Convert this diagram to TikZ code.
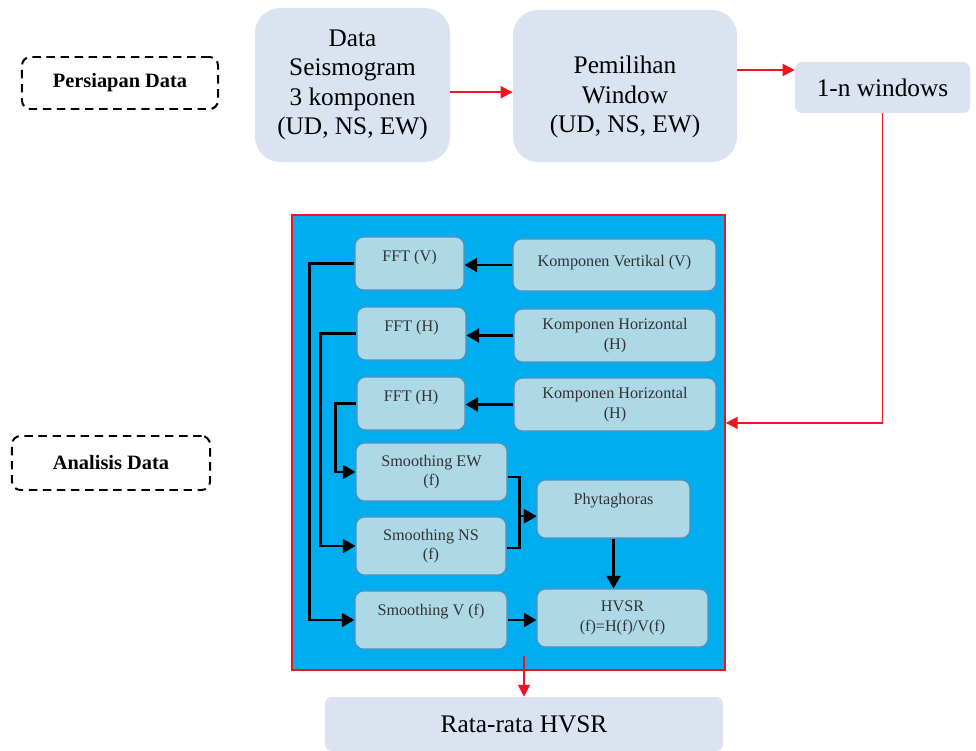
\documentclass[tikz,border=0pt]{standalone}
\usepackage{fontspec}
\setmainfont{Liberation Serif}
\usetikzlibrary{arrows.meta}
\definecolor{boxgray}{HTML}{DAE3EF}
\definecolor{panelblue}{HTML}{00AEEF}
\definecolor{innerblue}{HTML}{ADD8E6}
\definecolor{edgeblue}{HTML}{4F8FC0}
\definecolor{arrred}{HTML}{F0141E}
\newcommand{\lift}[2]{\raisebox{#1}[\height][\depth]{#2}}
\tikzset{
  stagebox/.style={fill=boxgray, rounded corners=5pt, align=center, font=\fontsize{18}{21}\selectfont},
  phasebox/.style={draw, dash pattern=on 6pt off 4pt, line width=1.4pt, rounded corners=6pt, font=\fontsize{14.5}{17}\selectfont\bfseries},
  panel/.style={fill=panelblue, draw=arrred, line width=1pt},
  stepbox/.style={fill=innerblue, draw=edgeblue, line width=0.8pt, rounded corners=6pt, align=center, text=black!80, font=\fontsize{11.5}{14}\selectfont, minimum height=1.45cm},
  redarrow/.style={draw=arrred, line width=1.4pt, -{Triangle[length=8.5pt,width=8.5pt]}},
  blkarrow/.style={line width=1.6pt, -{Triangle[length=9pt,width=10pt]}},
}
\begin{document}
\begin{tikzpicture}[x=0.025cm,y=-0.025cm]
  \useasboundingbox (0,0) rectangle (976,751);
  % phase labels
  \node[phasebox, minimum width=4.9cm, minimum height=1.3cm] (prep) at (120,83) {Persiapan Data};
  \node[phasebox, minimum width=4.95cm, minimum height=1.35cm] (anal) at (111,463) {Analisis Data};
  % data preparation
  \node[stagebox, minimum width=4.875cm, minimum height=3.85cm, rounded corners=18pt] (seis) at (352.5,85) {Data\\Seismogram\\3 komponen\\(UD, NS, EW)};
  \node[stagebox, minimum width=5.6cm, minimum height=3.8cm, rounded corners=18pt] (pilih) at (625,86) {\lift{-8pt}{\begin{tabular}{@{}c@{}}Pemilihan\\Window\\(UD, NS, EW)\end{tabular}}};
  \node[stagebox, minimum width=4.375cm, minimum height=1.275cm] (win) at (882.5,87.5) {1-n windows};
  \draw[redarrow] ([yshift=-0.18cm]seis.east) -- ([yshift=-0.18cm]seis.east -| pilih.west);
  \draw[redarrow] ([yshift=0.4cm]pilih.east) -- ([yshift=0.4cm]pilih.east -| win.west);
  % analysis
  \node[panel, minimum width=10.825cm, minimum height=11.375cm] (box) at (508.5,442.5) {};
  \draw[redarrow] (win.south) |- ([yshift=0.49cm]box.east);
  \node[stepbox, minimum width=2.725cm, minimum height=1.325cm] (fftv) at (409.5,263.5) {\lift{4pt}{FFT (V)}};
  \node[stepbox, minimum width=5.075cm, minimum height=1.3cm] (kv) at (614.5,265) {\lift{2pt}{Komponen Vertikal (V)}};
  \node[stepbox, minimum width=2.725cm, minimum height=1.325cm] (ffth1) at (411.5,333.5) {\lift{4pt}{FFT (H)}};
  \node[stepbox, minimum width=5.05cm, minimum height=1.325cm] (kh1) at (615,335.5) {Komponen Horizontal\\(H)};
  \node[stepbox, minimum width=2.7cm, minimum height=1.325cm] (ffth2) at (411,403.5) {\lift{4pt}{FFT (H)}};
  \node[stepbox, minimum width=5.05cm, minimum height=1.325cm] (kh2) at (615,404.5) {Komponen Horizontal\\(H)};
  \node[stepbox, minimum width=3.775cm] (sew) at (431.5,472) {Smoothing EW\\(f)};
  \node[stepbox, minimum width=3.75cm] (sns) at (431,546) {Smoothing NS\\(f)};
  \node[stepbox, minimum width=3.825cm] (phy) at (613.5,509) {\lift{6pt}{Phytaghoras}};
  \node[stepbox, minimum width=3.8cm] (sv) at (431,620) {\lift{6pt}{Smoothing V (f)}};
  \node[stepbox, minimum width=4.275cm] (hvsr) at (622.5,618) {HVSR\\(f)=H(f)/V(f)};
  \draw[blkarrow] (kv.west) -- (kv.west -| fftv.east);
  \draw[blkarrow] (kh1.west) -- (kh1.west -| ffth1.east);
  \draw[blkarrow] (kh2.west) -- (kh2.west -| ffth2.east);
  \draw[blkarrow] (fftv.west) -- ++(-45,0) |- (sv.west);
  \draw[blkarrow] (ffth1.west) -- ++(-36,0) |- (sns.west);
  \draw[blkarrow] (ffth2.west) -- ++(-21,0) |- (sew.west);
  \draw[blkarrow] ([yshift=-0.12cm]sew.east) -- ++(12,0) |- ([yshift=-0.18cm]phy.west);
  \draw[blkarrow] ([yshift=-0.05cm]sns.east) -- ++(13,0) |- ([yshift=-0.18cm]phy.west);
  \draw[blkarrow] (phy.south) -- (phy.south |- hvsr.north);
  \draw[blkarrow] (sv.east) -- (sv.east -| hvsr.west);
  % result
  \node[stagebox, minimum width=9.95cm, minimum height=1.35cm] (rata) at (524,724) {Rata-rata HVSR};
  \draw[redarrow] ([yshift=0.375cm]box.south -| rata.north) -- (rata.north);
\end{tikzpicture}
\end{document}
